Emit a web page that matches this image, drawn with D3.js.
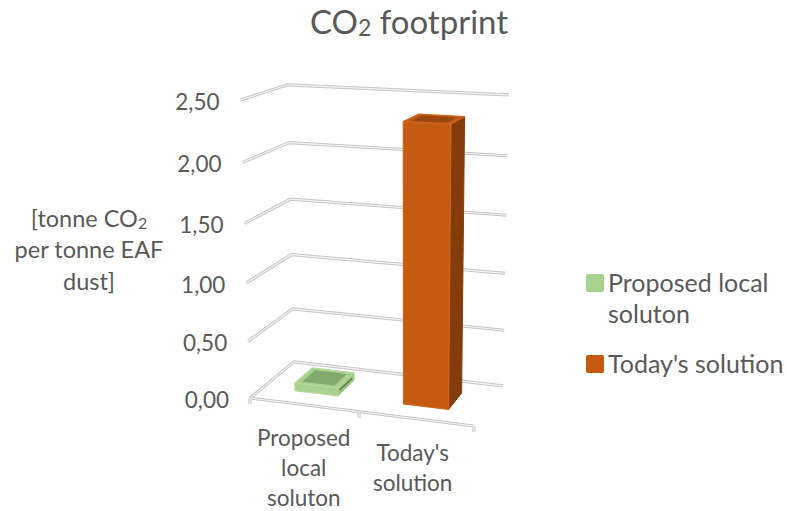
<!DOCTYPE html>
<html>
<head>
<meta charset="utf-8">
<script src="https://cdn.jsdelivr.net/npm/d3@7"></script>
<style>
  body { margin: 0; background: #fff; }
  svg { display: block; }
  text { font-family: 'Lato', sans-serif; fill: #595959; }
</style>
</head>
<body>
<div id="chart"></div>
<script>
// Chart data
const categories = ["Proposed local soluton", "Today's solution"];
const categoryLines = [["Proposed", "local", "soluton"], ["Today's", "solution"]];
const values = [0.07, 2.35];
const yTicks = [0, 0.5, 1, 1.5, 2, 2.5];
const legendLines = [["Proposed local", "soluton"], ["Today's solution"]];

// Colours for each bar: front, side, inner top
const barColors = [
  {front: "#A9D18E", side: "#9DC682", top: "#84A96D", edge: "#B5D99C"},
  {front: "#C55A11", side: "#843C0C", top: "#9B4810", edge: "#CF6520"}
];

const width = 787, height = 511;

// 3D box size (world units) and camera
const W = 177, H = 228.5, D = 85.5;
const cam = {f: 1311, px: 408, py: 237, yaw: 18.2, pitch: 14.3, t: [-120.5, 122.8, 1000]};

const ca = Math.cos(cam.yaw * Math.PI / 180), sa = Math.sin(cam.yaw * Math.PI / 180);
const cb = Math.cos(cam.pitch * Math.PI / 180), sb = Math.sin(cam.pitch * Math.PI / 180);

// world: x right, y up, z back  ->  screen
function project(x, y, z) {
  const rx = x * ca + z * sa;
  const ry0 = -y;
  const rz0 = -x * sa + z * ca;
  const ry = ry0 * cb - rz0 * sb;
  const rz = ry0 * sb + rz0 * cb;
  const X = rx + cam.t[0], Y = ry + cam.t[1], Z = rz + cam.t[2];
  return [cam.px + cam.f * X / Z, cam.py + cam.f * Y / Z];
}

const yScale = d3.scaleLinear().domain([0, 2.5]).range([0, H]);
const xScale = d3.scaleBand().domain(categories).range([0, W]).paddingInner(0.6).paddingOuter(0.3);
const fmt = d3.formatLocale({decimal: ",", thousands: ".", grouping: [3], currency: ["", ""]}).format(".2f");

const svg = d3.select("#chart").append("svg")
  .attr("width", width)
  .attr("height", height);

const line = d3.line();
function poly(pts) { return line(pts.map(p => project(p[0], p[1], p[2]))) + "Z"; }
function path(pts) { return line(pts.map(p => project(p[0], p[1], p[2]))); }

// Walls: gridlines drawn as light double lines
function tube(g, d) {
  g.append("path").attr("d", d).attr("fill", "none")
    .attr("stroke", "#c6c6c6").attr("stroke-width", 3.2).attr("stroke-linejoin", "round");
  g.append("path").attr("d", d).attr("fill", "none")
    .attr("stroke", "#f4f4f4").attr("stroke-width", 1.2).attr("stroke-linejoin", "round");
}

const grid = svg.append("g");
yTicks.forEach(v => {
  const y = yScale(v);
  tube(grid, path([[0, y, 0], [0, y, D], [W, y, D]]));
});

// category axis line and ticks
tube(grid, path([[0, 0, 0], [W, 0, 0]]));
[0, xScale.step(), W].forEach(x => {
  const p = project(x, 0, 0);
  tube(grid, line([[p[0], p[1]], [p[0], p[1] + 6]]));
});

// Y tick labels
svg.append("g").selectAll("text")
  .data(yTicks)
  .join("text")
  .attr("x", d => project(0, yScale(d), 0)[0] - 21)
  .attr("y", d => project(0, yScale(d), 0)[1] + 10)
  .attr("text-anchor", "end")
  .attr("font-size", "22.5px")
  .text(d => fmt(d));

// Bars
const bars = svg.append("g");
categories.forEach((c, i) => {
  const x0 = xScale(c), x1 = x0 + xScale.bandwidth();
  const bw = xScale.bandwidth();
  const z0 = (D - bw) / 2, z1 = z0 + bw;
  const h = yScale(values[i]);
  const col = barColors[i];
  const g = bars.append("g");
  // right side
  g.append("path").attr("d", poly([[x1, 0, z0], [x1, 0, z1], [x1, h, z1], [x1, h, z0]]))
    .attr("fill", col.side).attr("stroke", col.side).attr("stroke-width", 1).attr("stroke-linejoin", "round");
  // front
  g.append("path").attr("d", poly([[x0, 0, z0], [x1, 0, z0], [x1, h, z0], [x0, h, z0]]))
    .attr("fill", col.front).attr("stroke", col.edge).attr("stroke-width", 1.2).attr("stroke-linejoin", "round");
  // top rim
  g.append("path").attr("d", poly([[x0, h, z0], [x1, h, z0], [x1, h, z1], [x0, h, z1]]))
    .attr("fill", col.front).attr("stroke", col.edge).attr("stroke-width", 1.2).attr("stroke-linejoin", "round");
  // inner top (bevel)
  const ins = bw * 0.12;
  g.append("path").attr("d", poly([[x0 + ins, h, z0 + ins], [x1 - ins, h, z0 + ins], [x1 - ins, h, z1 - ins], [x0 + ins, h, z1 - ins]]))
    .attr("fill", col.top);
  if (i === 0) {
    // bevel slit on the low slab side
    g.append("path").attr("d", path([[x1, h * 0.5, z0 + ins], [x1, h * 0.5, z1 - ins]]))
      .attr("stroke", "#5d7d4a").attr("stroke-width", 1.6).attr("fill", "none");
  }
});

// Category labels
const catCenterY = 476, lineH = 30;
categories.forEach((c, i) => {
  const cx = project(xScale(c) + xScale.bandwidth() / 2, 0, 0)[0] - i * 3;
  const lines = categoryLines[i];
  svg.append("text")
    .attr("text-anchor", "middle")
    .attr("font-size", "22.5px")
    .selectAll("tspan")
    .data(lines)
    .join("tspan")
    .attr("x", cx)
    .attr("y", (d, j) => catCenterY + (j - (lines.length - 1) / 2) * lineH)
    .text(d => d);
});

// Title
const title = svg.append("text")
  .attr("x", 409)
  .attr("y", 34)
  .attr("text-anchor", "middle")
  .attr("font-size", "33px");
title.append("tspan").text("CO");
title.append("tspan").attr("font-size", "23px").attr("dy", 2).text("2");
title.append("tspan").attr("dy", -2).text(" footprint");

// Axis title
const at = svg.append("text").attr("text-anchor", "middle").attr("font-size", "23.5px");
const l1 = at.append("tspan").attr("x", 89).attr("y", 227);
l1.append("tspan").text("[tonne CO");
l1.append("tspan").attr("font-size", "16px").attr("dy", 2).text("2");
at.append("tspan").attr("x", 89).attr("y", 258).text("per tonne EAF");
at.append("tspan").attr("x", 89).attr("y", 290).text("dust]");

// Legend
const legendTop = [274, 355];
const legend = svg.append("g");
legendLines.forEach((lines, i) => {
  legend.append("rect")
    .attr("x", 586)
    .attr("y", legendTop[i])
    .attr("width", 18)
    .attr("height", 18)
    .attr("rx", 2)
    .attr("fill", barColors[i].front);
  legend.append("text")
    .attr("font-size", "25px")
    .selectAll("tspan")
    .data(lines)
    .join("tspan")
    .attr("x", 608)
    .attr("y", (d, j) => legendTop[i] + 18 + j * 31)
    .text(d => d);
});
</script>
</body>
</html>
